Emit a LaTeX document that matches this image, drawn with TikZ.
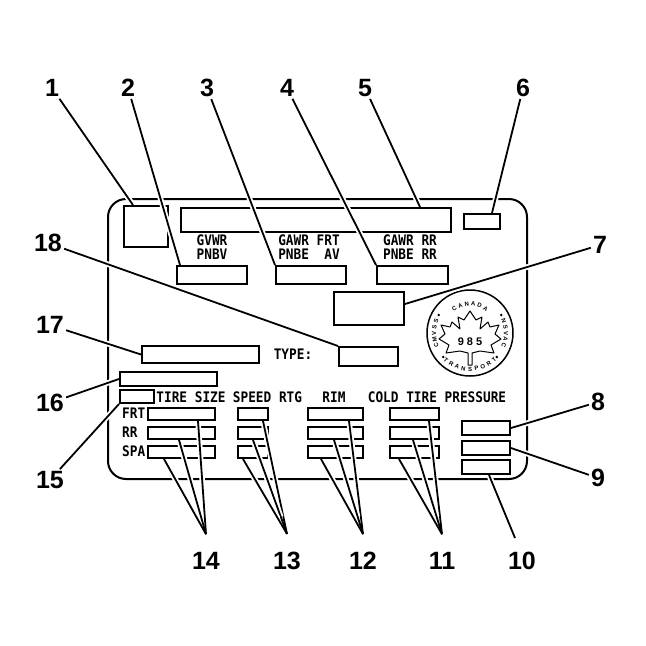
\documentclass[tikz,border=0pt]{standalone}
\usepackage{fontspec}
\usepackage{tikz}
\newfontfamily\calloutfont{Liberation Sans}
\newfontfamily\cardfont[FakeStretch=0.88]{DejaVu Sans Mono}
\tikzset{
    card-frame/.style = {draw, line width=2pt, rectangle, rounded corners=18pt, inner sep=0pt, anchor=north west},
    field-box/.style = {draw, line width=2pt, rectangle, inner sep=0pt, anchor=north west},
    card-text/.style = {font=\cardfont\bfseries\fontsize{14.5}{14.4}\selectfont, inner sep=0pt, align=center},
    callout/.style = {font=\calloutfont\bfseries\fontsize{25}{25}\selectfont, inner sep=2pt},
    leader/.style = {line width=1.8pt, preaction={draw=white, line width=5.5pt, shorten >=2.5pt, shorten <=#1}},
    leader/.default = 0pt,
    seal-letter/.style = {font=\calloutfont\bfseries\fontsize{6}{6}\selectfont, inner sep=0pt},
}
\begin{document}
\begin{tikzpicture}[x=1pt, y=-1pt]
\useasboundingbox (0,0) rectangle (646,646);
\node[card-frame, minimum width=419pt, minimum height=280pt] (card) at (107,198) {};
\node[field-box, minimum width=44pt, minimum height=41pt] (id-box) at (123,205) {};
\node[field-box, minimum width=270pt, minimum height=24pt] (vin-box) at (180,207) {};
\node[field-box, minimum width=36pt, minimum height=15pt] (code-box) at (463,213) {};
\node[card-text] (gvwr-text) at (212,247) {GVWR\\PNBV};
\node[card-text] (gawrf-text) at (309,247) {GAWR FRT\\PNBE~~AV};
\node[card-text] (gawrr-text) at (410,247) {GAWR RR\\PNBE RR};
\node[field-box, minimum width=70pt, minimum height=18pt] (gvwr-box) at (176,265) {};
\node[field-box, minimum width=70pt, minimum height=18pt] (gawrf-box) at (275,265) {};
\node[field-box, minimum width=71pt, minimum height=18pt] (gawrr-box) at (376,265) {};
\node[field-box, minimum width=70pt, minimum height=33pt] (stamp-box) at (333,291) {};
\node[field-box, minimum width=117pt, minimum height=17pt] (model-box) at (141,345) {};
\node[card-text] (type-text) at (293,354) {TYPE:};
\node[field-box, minimum width=59pt, minimum height=19pt] (type-box) at (338,346) {};
\node[field-box, minimum width=97pt, minimum height=14pt] (date-box) at (119,371) {};
\node[field-box, minimum width=34pt, minimum height=13pt] (small-box) at (119,389) {};
\node[card-text] (size-text) at (191,397) {TIRE SIZE};
\node[card-text] (speed-text) at (267.5,397) {SPEED RTG};
\node[card-text] (rim-text) at (334,397) {RIM};
\node[card-text] (cold-text) at (437,397) {COLD TIRE PRESSURE};
\foreach \row/\y/\txt in {frt/407/FRT, rr/426/RR, spa/445/SPA} {
\node[card-text, anchor=west] (\row-text) at (122,\y+6.5) {\txt};
\node[field-box, minimum width=67pt, minimum height=12pt] (tire-\row) at (147,\y) {};
\node[field-box, minimum width=30pt, minimum height=12pt] (speed-\row) at (237,\y) {};
\node[field-box, minimum width=55pt, minimum height=12pt] (rim-\row) at (307,\y) {};
\node[field-box, minimum width=49pt, minimum height=12pt] (cold-\row) at (389,\y) {};
}
\foreach \n/\y in {8/420, 9/440, 10/459}
\node[field-box, minimum width=48pt, minimum height=14pt] (side-box-\n) at (461,\y) {};
\begin{scope}[shift={(470,333)}]
\node[circle, draw, line width=1.5pt, minimum size=86pt, inner sep=0pt] (seal) at (0,0) {};
\draw[line width=1pt, line join=round] (0,-22) -- (6,-13) -- (12,-16) -- (10,-4) -- (18,-11) -- (20,-6) -- (29,-8) -- (25,1) -- (31,6) -- (21,12) -- (24,20) -- (10,18) -- (2,20) -- (2,32) -- (-2,32) -- (-2,20) -- (-10,18) -- (-24,20) -- (-21,12) -- (-31,6) -- (-25,1) -- (-29,-8) -- (-20,-6) -- (-18,-11) -- (-10,-4) -- (-12,-16) -- (-6,-13) -- cycle;
\node[font=\calloutfont\bfseries\fontsize{11}{11}\selectfont, fill=white, inner sep=0.5pt] (seal-num) at (0,9) {9 8 5};
\foreach \ch [count=\i, evaluate=\i as \a using 90+(3.5-\i)*13] in {C,A,N,A,D,A}
\node[seal-letter, rotate=\a-90] (canada-\i) at (\a:29pt) {\ch};
\foreach \ch [count=\i, evaluate=\i as \a using 180+(3-\i)*10] in {C,M,V,S,S}
\node[seal-letter, rotate=\a-90] (cmvss-\i) at (\a:36pt) {\ch};
\foreach \ch [count=\i, evaluate=\i as \a using (3-\i)*10] in {N,S,V,A,C}
\node[seal-letter, rotate=\a-90] (nsvac-\i) at (\a:36pt) {\ch};
\foreach \ch [count=\i, evaluate=\i as \a using 270+(\i-5)*10.5] in {T,R,A,N,S,P,O,R,T}
\node[seal-letter, rotate=\a+90] (transport-\i) at (\a:36pt) {\ch};
\foreach \a in {30,150,222,318}
\fill (\a:36pt) circle (1.4pt);
\end{scope}
\node[callout] (n1) at (52,88) {1};
\node[callout] (n2) at (128,88) {2};
\node[callout] (n3) at (207,88) {3};
\node[callout] (n4) at (287,88) {4};
\node[callout] (n5) at (365,88) {5};
\node[callout] (n6) at (523,88) {6};
\node[callout] (n7) at (600,245) {7};
\node[callout] (n18) at (48,243) {18};
\node[callout] (n17) at (50,325) {17};
\node[callout] (n16) at (50,403) {16};
\node[callout] (n15) at (50,480) {15};
\node[callout] (n8) at (598,402) {8};
\node[callout] (n9) at (598,478) {9};
\node[callout] (n14) at (206,561) {14};
\node[callout] (n13) at (287,561) {13};
\node[callout] (n12) at (363,561) {12};
\node[callout] (n11) at (442,561) {11};
\node[callout] (n10) at (522,561) {10};
\draw[leader] (n1) -- ([xshift=10pt]id-box.north west);
\draw[leader] (n2) -- ([xshift=4pt]gvwr-box.north west);
\draw[leader] (n3) -- (gawrf-box.north west);
\draw[leader] (n4) -- (gawrr-box.north west);
\draw[leader] (n5) -- ([xshift=-32pt]vin-box.north east);
\draw[leader] (n6) -- ([xshift=-9pt]code-box.north east);
\draw[leader] (n7) -- ([yshift=4.5pt]stamp-box.east);
\draw[leader] (n18) -- (type-box.north west);
\draw[leader] (n17) -- (model-box.west);
\draw[leader] (n16) -- (date-box.west);
\draw[leader] (n15) -- (small-box.south west);
\draw[leader] (n8) -- (side-box-8.east);
\draw[leader] (n9) -- (side-box-9.east);
\draw[leader] ([xshift=-7pt,yshift=12pt]n10.north) -- ([xshift=3pt]side-box-10.south);
\foreach \grp/\col/\a/\b/\c in {n14/tire/16.5/-2.5/-17.5, n13/speed/10/0/-10, n12/rim/13.5/-1.5/-14.5, n11/cold/14.5/-1.5/-15.5} {
\draw[leader=18pt] ([yshift=16pt]\grp.north) -- ([xshift=\a]\col-frt.south);
\draw[leader=18pt] ([yshift=16pt]\grp.north) -- ([xshift=\b]\col-rr.south);
\draw[leader=18pt] ([yshift=16pt]\grp.north) -- ([xshift=\c]\col-spa.south);
}
\end{tikzpicture}
\end{document}
